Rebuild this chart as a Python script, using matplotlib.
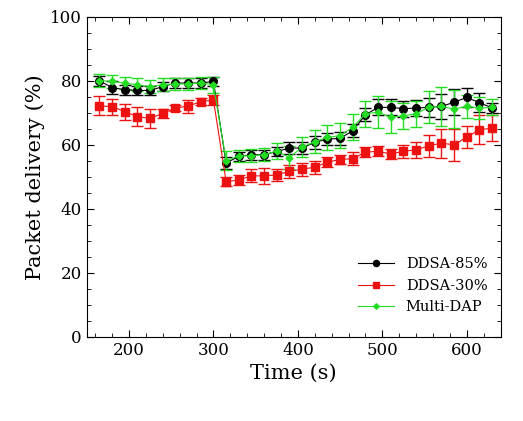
import numpy as np
import matplotlib.pyplot as plt
from matplotlib.lines import Line2D

plt.rcParams['font.family'] = ['DejaVu Serif']

time = np.arange(165, 631, 15)

ddsa85 = [80, 77.9, 77.2, 77, 77, 78.2, 79.3, 79.3, 79.3, 79.8,
          54.3, 56.4, 56.9, 56.9, 57.9, 59, 59, 60.8, 61.8, 62, 64.4, 69.4,
          71.7, 71.7, 71.3, 71.5, 71.7, 72, 73.3, 74.8, 73.2, 71.5]
ddsa85_err = [1.5, 2, 1.5, 1.5, 1.5, 1.5, 1.5, 1.5, 1.5, 1.5,
              2, 1.5, 1.5, 1.5, 1.5, 2, 2, 2, 2, 2, 2, 2,
              2.5, 2.5, 2.5, 2.5, 3, 4, 4, 3, 3, 1.5]
ddsa30 = [72.2, 71.9, 70.4, 68.75, 68.3, 69.8, 71.5, 72.1, 73.5, 74,
          48.5, 49, 50.3, 50.3, 50.6, 51.7, 52.4, 53, 54.6, 55.4, 55.7, 57.7,
          58, 57.1, 58, 58.4, 59.7, 60.5, 60, 62.4, 64.7, 65.2]
ddsa30_err = [3, 2.5, 2.5, 3, 3, 1.5, 1, 2, 1, 1.5,
              1.5, 1.5, 2, 2.5, 2, 2, 2, 2, 1.5, 1.5, 2, 1.5,
              1.5, 1.5, 2, 2.5, 3.5, 4.5, 5, 3.5, 4.5, 4]
multidap = [80.1, 79.8, 79.3, 78.75, 78.2, 78.75, 79, 79, 79.3, 78.75,
            55.1, 56.5, 56.6, 56.9, 58.1, 56, 59.3, 61, 62.3, 62.9, 65.5, 69.7,
            70.2, 68.6, 69.1, 69.7, 71.7, 72, 71.2, 72, 71.5, 71.7]
multidap_err = [2, 2, 2, 2, 2, 2, 2, 2, 2, 2.5,
                3, 2, 2, 2, 2.5, 3.5, 3, 3.5, 4, 4, 4, 4,
                5, 5, 4, 4, 5, 6, 6, 3.5, 3.5, 2.5]

fig, ax = plt.subplots(figsize=(5.23, 4.21), dpi=100)
fig.subplots_adjust(left=0.166, right=0.957, top=0.96, bottom=0.2)

series = [
    (ddsa85, ddsa85_err, 'black', 'o', 5.5, 'DDSA-85%'),
    (ddsa30, ddsa30_err, '#ee1111', 's', 6, 'DDSA-30%'),
    (multidap, multidap_err, '#22dd22', 'D', 3.5, 'Multi-DAP'),
]
handles = []
for vals, err, col, mk, ms, lab in series:
    ax.errorbar(time, vals, yerr=err, color=col, marker=mk, ms=ms, lw=0.8,
                capsize=4, elinewidth=1)
    handles.append(Line2D([], [], color=col, marker=mk, ms=ms * 0.8, lw=0.8, label=lab))

ax.set_xlim(150, 640)
ax.set_ylim(0, 100)
ax.set_xticks([200, 300, 400, 500, 600])
ax.set_xticks(np.arange(160, 641, 20), minor=True)
ax.set_yticks(np.arange(0, 101, 20))
ax.set_yticks(np.arange(0, 101, 5), minor=True)
ax.tick_params(axis='both', which='major', labelsize=12, direction='out', length=5)
ax.tick_params(axis='both', which='minor', direction='out', length=3)
ax.tick_params(right=True, top=True, which='both', direction='in')
ax.tick_params(axis='x', which='both', bottom=True)
ax.set_xlabel('Time (s)', fontsize=15)
ax.set_ylabel('Packet delivery (%)', fontsize=15)
ax.legend(handles=handles, loc='lower right', frameon=False, fontsize=10.5,
          handlelength=2.5, bbox_to_anchor=(1.0, 0.03))

plt.savefig('out.png')
